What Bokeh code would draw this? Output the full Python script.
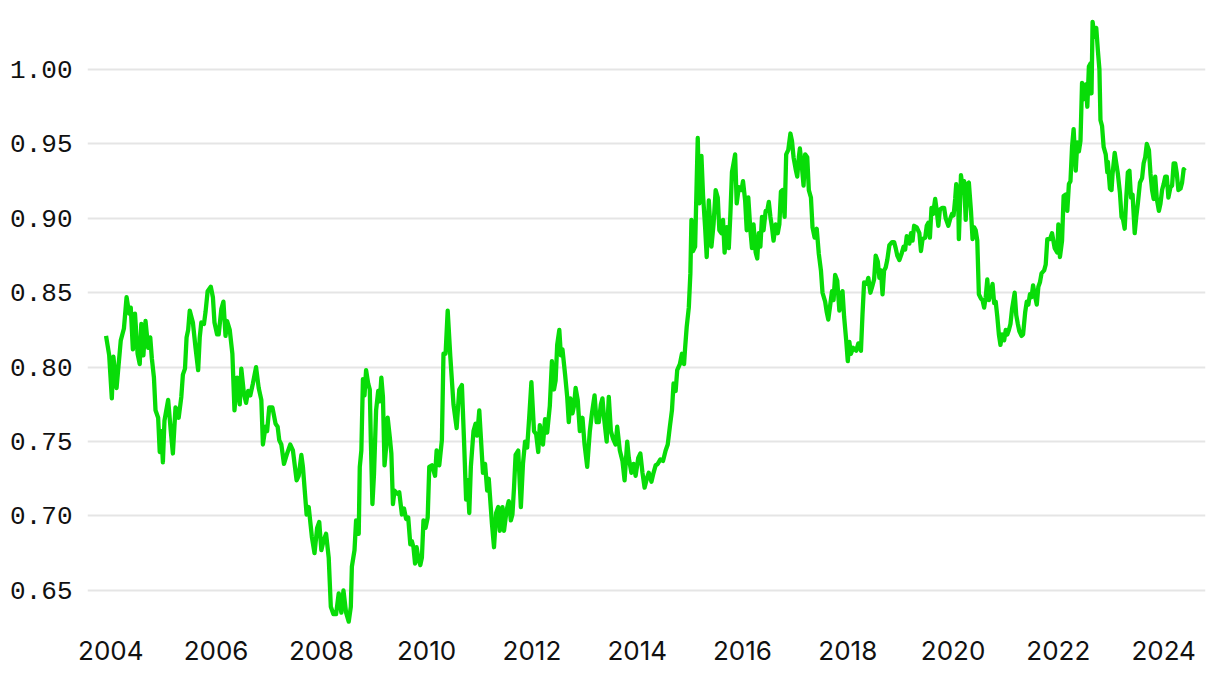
from bokeh.plotting import figure
from bokeh.models import ColumnDataSource, Range1d, FixedTicker, PrintfTickFormatter
from bokeh.embed import file_html
from bokeh.resources import INLINE

dates = [
    2003.91, 2003.97, 2004.02, 2004.05, 2004.11, 2004.19, 2004.25, 2004.30, 2004.35, 2004.38,
    2004.42, 2004.46, 2004.51, 2004.55, 2004.58, 2004.62, 2004.66, 2004.71, 2004.75, 2004.78,
    2004.82, 2004.85, 2004.90, 2004.93, 2004.96, 2004.99, 2005.02, 2005.09, 2005.14, 2005.18,
    2005.23, 2005.29, 2005.34, 2005.37, 2005.41, 2005.44, 2005.47, 2005.50, 2005.56, 2005.61,
    2005.66, 2005.69, 2005.72, 2005.77, 2005.80, 2005.84, 2005.90, 2005.94, 2005.97, 2006.02,
    2006.05, 2006.10, 2006.14, 2006.18, 2006.21, 2006.26, 2006.31, 2006.35, 2006.40, 2006.45,
    2006.48, 2006.53, 2006.57, 2006.61, 2006.65, 2006.70, 2006.76, 2006.81, 2006.86, 2006.89,
    2006.94, 2006.97, 2007.01, 2007.07, 2007.13, 2007.17, 2007.20, 2007.24, 2007.29,
    2007.35, 2007.41, 2007.46, 2007.53, 2007.57, 2007.62, 2007.65, 2007.72, 2007.76, 2007.82,
    2007.87, 2007.92, 2007.96, 2008.00, 2008.04, 2008.09, 2008.14, 2008.18, 2008.23, 2008.28,
    2008.33, 2008.38, 2008.42, 2008.47, 2008.52, 2008.56, 2008.58, 2008.63, 2008.66, 2008.71,
    2008.73, 2008.76, 2008.79, 2008.82, 2008.85, 2008.89, 2008.92, 2008.94, 2008.97, 2009.00,
    2009.04, 2009.08, 2009.11, 2009.14, 2009.17, 2009.20, 2009.23, 2009.26, 2009.30, 2009.33,
    2009.36, 2009.39, 2009.44, 2009.48, 2009.53, 2009.57, 2009.61, 2009.65, 2009.69, 2009.72,
    2009.75, 2009.78, 2009.81, 2009.84, 2009.88, 2009.91, 2009.94, 2009.98, 2010.02, 2010.05,
    2010.10, 2010.16, 2010.19, 2010.24, 2010.29, 2010.32, 2010.36, 2010.40, 2010.45, 2010.51,
    2010.57, 2010.62, 2010.67, 2010.71, 2010.75, 2010.78, 2010.81, 2010.84, 2010.89, 2010.93,
    2010.96, 2011.00,
    2011.03, 2011.07, 2011.11, 2011.15, 2011.18, 2011.24, 2011.28, 2011.32, 2011.36, 2011.39,
    2011.44, 2011.47, 2011.52, 2011.56, 2011.60, 2011.63, 2011.66, 2011.69, 2011.74, 2011.79,
    2011.83, 2011.87, 2011.91, 2011.95, 2011.99, 2012.04, 2012.08, 2012.12, 2012.15, 2012.18,
    2012.21, 2012.25, 2012.29, 2012.34, 2012.38, 2012.42, 2012.45, 2012.48, 2012.52, 2012.55,
    2012.58, 2012.63, 2012.67, 2012.70, 2012.73, 2012.77, 2012.80, 2012.83, 2012.87, 2012.91,
    2012.96, 2013.00, 2013.05, 2013.10, 2013.14, 2013.19, 2013.23, 2013.27, 2013.31, 2013.34,
    2013.37, 2013.42, 2013.46, 2013.50, 2013.54, 2013.59, 2013.62, 2013.67, 2013.72, 2013.76,
    2013.81, 2013.84, 2013.89, 2013.93, 2013.97, 2014.02, 2014.06, 2014.10, 2014.14, 2014.19,
    2014.22, 2014.27, 2014.31, 2014.35, 2014.39, 2014.44, 2014.49, 2014.54, 2014.58,
    2014.62, 2014.66, 2014.69, 2014.73, 2014.76, 2014.81, 2014.85, 2014.89, 2014.91, 2014.94,
    2014.98, 2015.01, 2015.03, 2015.06, 2015.10, 2015.13, 2015.15, 2015.18, 2015.22, 2015.25,
    2015.29, 2015.32, 2015.36, 2015.41, 2015.45, 2015.49, 2015.53, 2015.56, 2015.60, 2015.63,
    2015.66, 2015.70, 2015.74, 2015.77, 2015.80, 2015.83, 2015.86, 2015.89, 2015.93, 2015.98,
    2016.01, 2016.05, 2016.08, 2016.11, 2016.15, 2016.18, 2016.21, 2016.25, 2016.28, 2016.31,
    2016.34, 2016.37, 2016.40, 2016.44, 2016.47, 2016.50, 2016.53, 2016.56, 2016.59, 2016.63,
    2016.67, 2016.70, 2016.73, 2016.76, 2016.80, 2016.83, 2016.87, 2016.91, 2016.94, 2016.97,
    2017.01, 2017.04, 2017.07, 2017.09, 2017.13, 2017.16, 2017.19, 2017.23, 2017.26, 2017.30,
    2017.33, 2017.37, 2017.41, 2017.45, 2017.49, 2017.52, 2017.57, 2017.60, 2017.63, 2017.66,
    2017.70, 2017.73, 2017.76, 2017.80, 2017.84, 2017.87, 2017.90, 2017.93, 2017.97, 2018.00,
    2018.03, 2018.06, 2018.10, 2018.16, 2018.20,
    2018.25, 2018.28, 2018.31, 2018.36, 2018.39, 2018.43, 2018.47, 2018.50, 2018.53, 2018.57,
    2018.60, 2018.63, 2018.66, 2018.69, 2018.72, 2018.75, 2018.79, 2018.84, 2018.88, 2018.91,
    2018.94, 2018.98, 2019.02, 2019.06, 2019.09, 2019.12, 2019.17, 2019.20, 2019.23, 2019.26,
    2019.31, 2019.36, 2019.39, 2019.42, 2019.47, 2019.50, 2019.53, 2019.56, 2019.59, 2019.62,
    2019.66, 2019.69, 2019.72, 2019.75, 2019.79, 2019.83, 2019.86, 2019.91, 2019.94, 2019.98,
    2020.01, 2020.04, 2020.06, 2020.10, 2020.11, 2020.15, 2020.18, 2020.21, 2020.24, 2020.27,
    2020.30, 2020.34, 2020.37, 2020.40, 2020.43, 2020.46, 2020.49, 2020.53, 2020.56, 2020.59,
    2020.62, 2020.65, 2020.68, 2020.71, 2020.75, 2020.78, 2020.81, 2020.84, 2020.87, 2020.90,
    2020.93, 2020.97, 2021.00, 2021.03, 2021.06, 2021.09, 2021.12, 2021.17, 2021.20, 2021.23,
    2021.26, 2021.30, 2021.33, 2021.37, 2021.40, 2021.43, 2021.46, 2021.49, 2021.52, 2021.55,
    2021.59, 2021.62, 2021.65, 2021.68, 2021.73, 2021.76, 2021.79,
    2021.84, 2021.88, 2021.93, 2021.98, 2022.00, 2022.03, 2022.07, 2022.10, 2022.14, 2022.17,
    2022.20, 2022.23, 2022.26, 2022.29, 2022.33, 2022.36, 2022.39, 2022.42, 2022.45, 2022.48,
    2022.52, 2022.55, 2022.58, 2022.61, 2022.63, 2022.65, 2022.69, 2022.72, 2022.75, 2022.78,
    2022.80, 2022.83, 2022.86, 2022.90, 2022.93, 2022.94, 2022.98, 2023.01, 2023.03, 2023.07,
    2023.10, 2023.13, 2023.17, 2023.20, 2023.23, 2023.26, 2023.29, 2023.32, 2023.35, 2023.38,
    2023.41, 2023.45, 2023.48, 2023.51, 2023.55, 2023.59, 2023.62, 2023.65, 2023.68, 2023.72,
    2023.75, 2023.78, 2023.81, 2023.84, 2023.87, 2023.91, 2023.94, 2023.97, 2024.00, 2024.03,
    2024.06, 2024.09, 2024.13, 2024.16, 2024.19, 2024.22, 2024.25, 2024.28, 2024.32, 2024.35,
    2024.38, 2024.41,
]

values = [
    0.821, 0.808, 0.779, 0.807, 0.786, 0.818, 0.826, 0.847, 0.836, 0.840,
    0.812, 0.836, 0.809, 0.802, 0.829, 0.808, 0.831, 0.813, 0.820, 0.806,
    0.793, 0.771, 0.766, 0.743, 0.757, 0.736, 0.764, 0.778, 0.757, 0.742,
    0.773, 0.766, 0.780, 0.795, 0.799, 0.820, 0.825, 0.838, 0.830, 0.813,
    0.798, 0.820, 0.830, 0.829, 0.837, 0.851, 0.854, 0.847, 0.830, 0.822,
    0.822, 0.839, 0.844, 0.821, 0.831, 0.825, 0.809, 0.771, 0.793, 0.775,
    0.799, 0.782, 0.776, 0.784, 0.781, 0.789, 0.800, 0.786, 0.778, 0.748,
    0.760, 0.757, 0.773, 0.773, 0.762, 0.760, 0.751, 0.748, 0.735,
    0.742, 0.748, 0.744, 0.724, 0.727, 0.741, 0.733, 0.701, 0.706, 0.686,
    0.675, 0.692, 0.696, 0.677, 0.683, 0.688, 0.672, 0.639, 0.634, 0.634,
    0.648, 0.635, 0.650, 0.635, 0.629, 0.639, 0.666, 0.677, 0.697, 0.688,
    0.733, 0.744, 0.792, 0.781, 0.798, 0.789, 0.785, 0.751, 0.708, 0.728,
    0.771, 0.784, 0.777, 0.793, 0.780, 0.734, 0.746, 0.766, 0.753, 0.742,
    0.708, 0.717, 0.715, 0.716, 0.701, 0.705, 0.698, 0.699, 0.681, 0.683,
    0.679, 0.668, 0.679, 0.672, 0.667, 0.672, 0.697, 0.692, 0.699, 0.733,
    0.734, 0.727, 0.744, 0.734, 0.751, 0.809, 0.809, 0.838, 0.807, 0.775,
    0.759, 0.785, 0.788, 0.751, 0.711, 0.724, 0.702, 0.733, 0.757, 0.762,
    0.754, 0.771,
    0.753, 0.729, 0.735, 0.717, 0.725, 0.695, 0.679, 0.702, 0.706, 0.690,
    0.706, 0.690, 0.704, 0.710, 0.697, 0.701, 0.719, 0.741, 0.744, 0.706,
    0.735, 0.750, 0.746, 0.767, 0.790, 0.757, 0.755, 0.743, 0.761, 0.755,
    0.748, 0.765, 0.756, 0.774, 0.804, 0.785, 0.791, 0.815, 0.825, 0.808,
    0.812, 0.795, 0.780, 0.763, 0.779, 0.769, 0.774, 0.786, 0.778, 0.757,
    0.766, 0.748, 0.733, 0.757, 0.769, 0.781, 0.763, 0.763, 0.775, 0.779,
    0.766, 0.750, 0.780, 0.757, 0.752, 0.748, 0.760, 0.744, 0.737, 0.724,
    0.750, 0.739, 0.729, 0.735, 0.727, 0.739, 0.742, 0.729, 0.719, 0.726,
    0.729, 0.723, 0.729, 0.734, 0.735, 0.738, 0.737, 0.744, 0.748,
    0.760, 0.771, 0.789, 0.784, 0.798, 0.802, 0.809, 0.802, 0.813, 0.827,
    0.840, 0.863, 0.899, 0.878, 0.881, 0.925, 0.954, 0.910, 0.942, 0.916,
    0.894, 0.874, 0.912, 0.881, 0.896, 0.919, 0.914, 0.892, 0.890, 0.899,
    0.877, 0.894, 0.880, 0.903, 0.931, 0.937, 0.943, 0.910, 0.921, 0.919,
    0.925, 0.912, 0.892, 0.914, 0.892, 0.880, 0.896, 0.877, 0.873, 0.890,
    0.881, 0.901, 0.892, 0.905, 0.905, 0.911, 0.901, 0.894, 0.885, 0.896,
    0.890, 0.896, 0.918, 0.919, 0.901, 0.943, 0.946, 0.957, 0.952, 0.941,
    0.933, 0.928, 0.941, 0.947, 0.934, 0.922, 0.943, 0.941, 0.919, 0.914,
    0.894, 0.887, 0.893, 0.876, 0.865, 0.850, 0.844, 0.837, 0.832, 0.840,
    0.851, 0.845, 0.862, 0.858, 0.838, 0.849, 0.851, 0.834, 0.818, 0.804,
    0.817, 0.809, 0.813, 0.811, 0.816,
    0.811, 0.836, 0.857, 0.856, 0.860, 0.850, 0.855, 0.859, 0.875, 0.871,
    0.860, 0.865, 0.849, 0.865, 0.867, 0.872, 0.882, 0.884, 0.884, 0.880,
    0.875, 0.872, 0.876, 0.881, 0.879, 0.888, 0.883, 0.890, 0.885, 0.895,
    0.894, 0.890, 0.878, 0.886, 0.887, 0.895, 0.897, 0.887, 0.907, 0.903,
    0.913, 0.905, 0.895, 0.906, 0.907, 0.907, 0.900, 0.895, 0.899, 0.903,
    0.902, 0.913, 0.923, 0.907, 0.886, 0.929, 0.921, 0.925, 0.899, 0.923,
    0.924, 0.905, 0.886, 0.894, 0.892, 0.885, 0.849, 0.846, 0.845, 0.840,
    0.847, 0.859, 0.845, 0.849, 0.856, 0.843, 0.844, 0.834, 0.822, 0.815,
    0.822, 0.818, 0.825, 0.822, 0.825, 0.829, 0.839, 0.850, 0.835, 0.829,
    0.824, 0.821, 0.822, 0.837, 0.844, 0.842, 0.849, 0.847, 0.855, 0.849,
    0.842, 0.854, 0.857, 0.863, 0.865, 0.869, 0.886,
    0.886, 0.890, 0.880, 0.877, 0.896, 0.874, 0.885, 0.915, 0.916, 0.905,
    0.923, 0.925, 0.948, 0.960, 0.932, 0.951, 0.945, 0.952, 0.991, 0.980,
    0.990, 0.975, 1.002, 1.004, 0.984, 1.032, 1.022, 1.028, 1.013, 1.000,
    0.966, 0.962, 0.948, 0.943, 0.931, 0.938, 0.920, 0.919, 0.930, 0.944,
    0.937, 0.930, 0.917, 0.901, 0.899, 0.893, 0.914, 0.931, 0.932, 0.914,
    0.916, 0.890, 0.901, 0.910, 0.924, 0.927, 0.937, 0.941, 0.950, 0.946,
    0.930, 0.919, 0.913, 0.928, 0.913, 0.905, 0.910, 0.919, 0.923, 0.928,
    0.928, 0.914, 0.921, 0.922, 0.937, 0.937, 0.930, 0.919, 0.920, 0.924,
    0.933, 0.932,
]

y_ticks = [0.65, 0.70, 0.75, 0.80, 0.85, 0.90, 0.95, 1.00]
x_ticks = [2004, 2006, 2008, 2010, 2012, 2014, 2016, 2018, 2020, 2022, 2024]

source = ColumnDataSource(data=dict(x=dates, y=values))

p = figure(
    width=1212, height=674,
    output_backend="svg", toolbar_location=None,
    x_range=Range1d(2003.558, 2024.795),
    y_range=Range1d(0.6264, 1.0363),
    min_border_left=87, min_border_right=7, min_border_top=15, min_border_bottom=49,
)
p.outline_line_color = None
p.background_fill_color = "white"
p.border_fill_color = "white"

p.line("x", "y", source=source, line_color="#08DC08", line_width=4.3, line_join="round")

p.xgrid.grid_line_color = None
p.ygrid.grid_line_color = "#e5e5e5"
p.ygrid.grid_line_width = 2

p.yaxis.ticker = FixedTicker(ticks=y_ticks)
p.yaxis.formatter = PrintfTickFormatter(format="%.2f")
p.xaxis.ticker = FixedTicker(ticks=x_ticks)

for ax in (p.xaxis[0], p.yaxis[0]):
    ax.axis_line_color = None
    ax.major_tick_line_color = None
    ax.minor_tick_line_color = None
    ax.major_label_text_color = "#111111"
    ax.major_label_text_font_size = "26px"

p.yaxis.major_label_text_font = "Liberation Mono"
p.yaxis.major_label_standoff = 9
p.xaxis.major_label_text_font = "Inter"
p.xaxis.major_label_standoff = 9

open("out.html", "w").write(file_html(p, INLINE))
